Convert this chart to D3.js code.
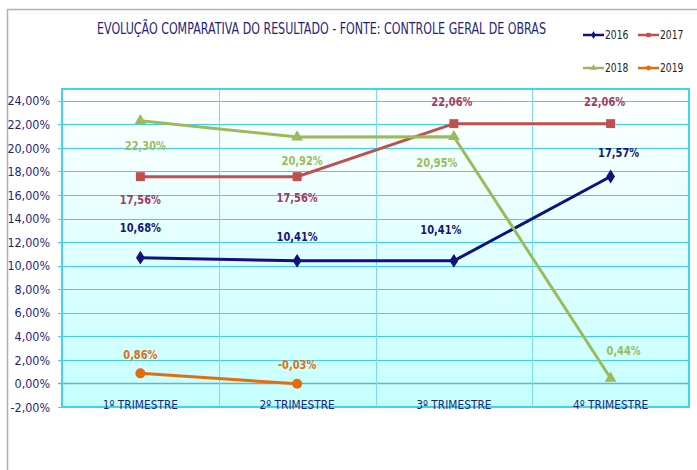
<!DOCTYPE html>
<html>
<head>
<meta charset="utf-8">
<script src="https://cdn.jsdelivr.net/npm/d3@7"></script>
<style>
  body { margin: 0; background: #fff; }
  text { font-family: "Liberation Sans Narrow", "Arial Narrow", "DejaVu Sans", sans-serif; }
</style>
</head>
<body>
<svg id="chart" width="697" height="470"></svg>
<script>

const categories = ["1º TRIMESTRE", "2º TRIMESTRE", "3º TRIMESTRE", "4º TRIMESTRE"];
const years = ["2016", "2017", "2018", "2019"];
const values2016 = [10.68, 10.41, 10.41, 17.57];
const values2017 = [17.56, 17.56, 22.06, 22.06];
const values2018 = [22.30, 20.92, 20.95, 0.44];
const values2019 = [0.86, -0.03];
const yTickValues = [-2, 0, 2, 4, 6, 8, 10, 12, 14, 16, 18, 20, 22, 24];

const title = "EVOLUÇÃO COMPARATIVA DO RESULTADO - FONTE: CONTROLE GERAL DE OBRAS";

// label offsets were moved by hand in the original, so copy them
const labelOffsets = {
    "2016": [[0, -30], [0, -25], [-13, -32], [8, -24]],
    "2017": [[0, 23], [0, 21], [-2, -22], [-6, -22]],
    "2018": [[5, 25], [5, 23], [-17, 26], [13, -28]],
    "2019": [[0, -19], [0, -19]]
};

const series = [
    { year: years[0], values: values2016, color: "#10107f", labelColor: "#14147a", symbol: d3.symbolDiamond, size: 55, weight: "bold" },
    { year: years[1], values: values2017, color: "#c0504d", labelColor: "#9b3d63", symbol: d3.symbolSquare, size: 80, weight: 600 },
    { year: years[2], values: values2018, color: "#9bbb59", labelColor: "#9bbb59", symbol: d3.symbolTriangle, size: 60, weight: 600 },
    { year: years[3], values: values2019, color: "#e46c0a", labelColor: "#e46c0a", symbol: d3.symbolCircle, size: 80, weight: 600 }
];

const plot = { left: 62, top: 89, right: 689, bottom: 407 };

const pct = d => d3.format(".2f")(d).replace(".", ",").replace("\u2212", "-") + "%";

const svg = d3.select("#chart");

// squeeze text horizontally, the original uses a narrow font
const narrow = (sel, factor) => {
    sel.each(function () {
        const t = d3.select(this);
        const tx = +t.attr("x") || 0;
        const ty = +t.attr("y") || 0;
        t.attr("x", 0)
            .attr("y", 0)
            .attr("transform", `translate(${tx},${ty}) scale(${factor},1)`);
    });
};

// outer frame (only left and top edges are visible)
svg.append("path")
    .attr("d", "M7.5,470 V9.5 H697")
    .attr("fill", "none")
    .attr("stroke", "#b0b0b0")
    .attr("stroke-width", 1.5);

const x = d3.scaleBand()
    .domain(categories)
    .range([plot.left, plot.right]);

const y = d3.scaleLinear()
    .domain([-2, 25])
    .range([plot.bottom, plot.top]);

const defs = svg.append("defs");
const grad = defs.append("linearGradient")
    .attr("id", "bg")
    .attr("x1", 0).attr("y1", 0)
    .attr("x2", 0).attr("y2", 1);
grad.append("stop").attr("offset", "0%").attr("stop-color", "#ffffff");
grad.append("stop").attr("offset", "100%").attr("stop-color", "#c6ffff");

svg.append("rect")
    .attr("x", plot.left)
    .attr("y", plot.top)
    .attr("width", plot.right - plot.left)
    .attr("height", plot.bottom - plot.top)
    .attr("fill", "url(#bg)");

// horizontal gridlines
svg.append("g")
    .selectAll("line")
    .data(yTickValues)
    .enter()
    .append("line")
    .attr("x1", plot.left - 4)
    .attr("x2", plot.right)
    .attr("y1", d => Math.round(y(d)) + 0.5)
    .attr("y2", d => Math.round(y(d)) + 0.5)
    .attr("stroke", d => d === 0 ? "#5fb8c8" : "#3cd0f0")
    .attr("stroke-width", d => d === 0 ? 1.5 : 1.2);

// vertical gridlines between categories
svg.append("g")
    .selectAll("line")
    .data(categories.slice(1))
    .enter()
    .append("line")
    .attr("x1", d => Math.round(x(d)) + 0.5)
    .attr("x2", d => Math.round(x(d)) + 0.5)
    .attr("y1", plot.top)
    .attr("y2", plot.bottom)
    .attr("stroke", "#7adcec")
    .attr("stroke-width", 1);

svg.append("rect")
    .attr("x", plot.left)
    .attr("y", plot.top)
    .attr("width", plot.right - plot.left)
    .attr("height", plot.bottom - plot.top)
    .attr("fill", "none")
    .attr("stroke", "#3fd4f4")
    .attr("stroke-width", 2);

// y tick labels
svg.append("g")
    .selectAll("text")
    .data(yTickValues)
    .enter()
    .append("text")
    .attr("x", 50)
    .attr("y", d => y(d))
    .attr("dy", "0.36em")
    .attr("text-anchor", "end")
    .attr("font-size", 13)
    .attr("fill", "#1f1f7a")
    .text(pct)
    .call(narrow, 0.86);

// category labels sit on the bottom edge of the plot
svg.append("g")
    .selectAll("text")
    .data(categories)
    .enter()
    .append("text")
    .attr("x", d => x(d) + x.bandwidth() / 2)
    .attr("y", plot.bottom + 2)
    .attr("text-anchor", "middle")
    .attr("font-size", 12.5)
    .attr("fill", "#1f1f7a")
    .text(d => d)
    .call(narrow, 0.85);

const cx = i => x(categories[i]) + x.bandwidth() / 2;

const line = d3.line()
    .x((d, i) => cx(i))
    .y(d => y(d));

series.forEach(s => {

    const g = svg.append("g");

    g.append("path")
        .attr("d", line(s.values))
        .attr("fill", "none")
        .attr("stroke", s.color)
        .attr("stroke-width", 3);

    g.selectAll("path.marker")
        .data(s.values)
        .enter()
        .append("path")
        .attr("class", "marker")
        .attr("d", d3.symbol().type(s.symbol).size(s.size))
        .attr("transform", (d, i) => {
            const sy = s.symbol === d3.symbolDiamond ? "scale(1.1,1)" : "";
            return `translate(${cx(i)},${y(d)}) ${sy}`;
        })
        .attr("fill", s.color);

    g.selectAll("text")
        .data(s.values)
        .enter()
        .append("text")
        .attr("x", (d, i) => cx(i) + labelOffsets[s.year][i][0])
        .attr("y", (d, i) => y(d) + labelOffsets[s.year][i][1])
        .attr("dy", "0.36em")
        .attr("text-anchor", "middle")
        .attr("font-size", 13)
        .attr("font-weight", s.weight)
        .attr("fill", s.labelColor)
        .text(pct)
        .call(narrow, 0.76);
});

// title, squeezed to the width it has in the original
const titleText = svg.append("text")
    .attr("x", 0)
    .attr("y", 0)
    .attr("font-size", 15.5)
    .attr("fill", "#1f1f7a")
    .text(title);
const titleWidth = titleText.node().getComputedTextLength();
titleText.attr("transform", `translate(97,34) scale(${449 / titleWidth},1)`);

// legend, two rows of two
const legend = svg.append("g")
    .selectAll("g")
    .data(series)
    .enter()
    .append("g")
    .attr("transform", (d, i) => `translate(${583 + (i % 2) * 55},${35 + Math.floor(i / 2) * 33})`);

legend.append("line")
    .attr("x1", 0)
    .attr("x2", 21)
    .attr("stroke", d => d.color)
    .attr("stroke-width", 2.5);

legend.append("path")
    .attr("d", d => d3.symbol().type(d.symbol).size(18)())
    .attr("transform", "translate(10.5,0)")
    .attr("fill", d => d.color);

legend.append("text")
    .attr("x", 22)
    .attr("dy", "0.36em")
    .attr("font-size", 11.5)
    .attr("fill", "#222")
    .text(d => d.year)
    .call(narrow, 0.8);

</script>
</body>
</html>
